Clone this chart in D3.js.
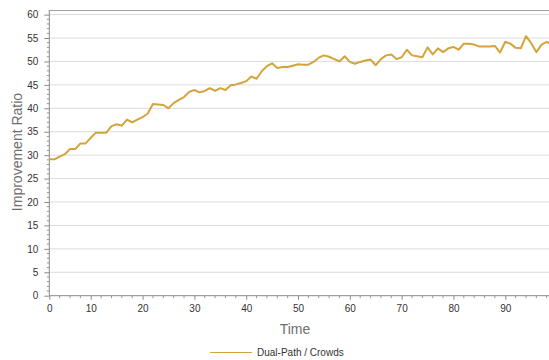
<!DOCTYPE html>
<html><head><meta charset="utf-8">
<script src="https://cdn.jsdelivr.net/npm/d3@7"></script>
<style>body{margin:0;background:#fff;}svg{display:block;}</style>
</head><body>
<svg id="c" width="549" height="360"></svg>
<script>
const seriesName = "Dual-Path / Crowds";
const times = d3.range(2, 100);
const ratios = [
 29.1,29.1,29.7,30.2,31.3,31.3,32.5,32.5,33.7,34.8,
 34.8,34.8,36.2,36.6,36.3,37.6,37.0,37.6,38.1,38.9,
 40.9,40.8,40.7,40.0,41.1,41.8,42.4,43.5,43.9,43.4,
 43.7,44.3,43.7,44.3,43.9,44.9,45.1,45.4,45.8,46.8,
 46.3,47.9,49.0,49.6,48.6,48.8,48.8,49.1,49.4,49.3,
 49.3,49.9,50.8,51.3,51.0,50.5,50.0,51.1,49.9,49.5,
 49.9,50.2,50.4,49.2,50.5,51.3,51.5,50.5,50.9,52.5,
 51.3,51.1,50.9,53.0,51.5,52.8,52.0,52.8,53.1,52.5,
 53.8,53.8,53.6,53.2,53.2,53.2,53.3,51.9,54.2,53.8,
 52.9,52.8,55.4,53.9,52.0,53.6,54.2,53.6
];
const xTicks = [0,10,20,30,40,50,60,70,80,90];
const yTicks = [0,5,10,15,20,25,30,35,40,45,50,55,60];
const xTitle = "Time", yTitle = "Improvement Ratio";

(function(){
const svg = d3.select("#c");
const x = d3.scaleLinear().domain([2, 99]).range([49.3, 551.9]).clamp(true);
const y = d3.scaleLinear().domain([0, 60]).range([295.7, 14.6]);
const pl = 49.3, pr = 549, pt = 10, pb = 295.7;

svg.append("g").selectAll("line").data(yTicks.filter(d=>d>0)).join("line")
  .attr("x1", pl).attr("x2", pr)
  .attr("y1", d=>y(d)).attr("y2", d=>y(d))
  .attr("stroke", "#dcdcdc").attr("stroke-width", 1);
svg.append("line").attr("x1", pl).attr("x2", pr).attr("y1", pt+0.5).attr("y2", pt+0.5)
  .attr("stroke", "#a0a0a0");

const ya = svg.append("g").attr("transform", `translate(${pl},0)`)
  .call(d3.axisLeft(y).tickValues(yTicks).tickSize(5).tickPadding(6).tickFormat(d3.format("d")));
ya.select(".domain").remove();
ya.selectAll(".tick line").attr("stroke", "#8a8a8a");
ya.selectAll("text").attr("fill", "#333").style("font", "10px 'Liberation Sans', Arial, sans-serif");
svg.append("g").selectAll("line").data(d3.range(0, 61).filter(d=>d%5)).join("line")
  .attr("x1", pl-2.5).attr("x2", pl).attr("y1", d=>y(d)).attr("y2", d=>y(d))
  .attr("stroke", "#9a9a9a");
svg.append("line").attr("x1", pl).attr("x2", pl).attr("y1", pt).attr("y2", pb)
  .attr("stroke", "#8a8a8a");

const xa = svg.append("g").attr("transform", `translate(0,${pb})`)
  .call(d3.axisBottom(x).tickValues(xTicks).tickSize(4).tickPadding(5).tickFormat(d3.format("d")));
xa.select(".domain").remove();
xa.selectAll(".tick line").attr("stroke", "#8a8a8a");
xa.selectAll("text").attr("fill", "#333").style("font", "10px 'Liberation Sans', Arial, sans-serif");
svg.append("g").selectAll("line").data(d3.range(4, 100, 2).filter(d=>d%10)).join("line")
  .attr("x1", d=>x(d)).attr("x2", d=>x(d)).attr("y1", pb).attr("y2", pb+2.5)
  .attr("stroke", "#9a9a9a");
svg.append("line").attr("x1", pl).attr("x2", pr).attr("y1", pb).attr("y2", pb)
  .attr("stroke", "#8a8a8a");

const pts = times.map((t,i)=>[t, ratios[i]]);
svg.append("path").datum(pts)
  .attr("fill", "none").attr("stroke", "#d4a43c").attr("stroke-width", 2)
  .attr("stroke-linejoin", "round")
  .attr("d", d3.line().x(d=>x(d[0])).y(d=>y(d[1])));

svg.append("text").attr("x", 295).attr("y", 334).attr("text-anchor", "middle")
  .attr("fill", "#6e6e6e").style("font", "14px 'Liberation Sans', Arial, sans-serif").text(xTitle);
svg.append("text").attr("transform", "translate(22,152) rotate(-90)").attr("text-anchor", "middle")
  .attr("fill", "#6e6e6e").style("font", "14px 'Liberation Sans', Arial, sans-serif").text(yTitle);

svg.append("line").attr("x1", 210).attr("x2", 252).attr("y1", 352.5).attr("y2", 352.5)
  .attr("stroke", "#d4a43c").attr("stroke-width", 1);
svg.append("text").attr("x", 257).attr("y", 356).attr("fill", "#333")
  .style("font", "10px 'Liberation Sans', Arial, sans-serif").text(seriesName);
})();
</script>
</body></html>
